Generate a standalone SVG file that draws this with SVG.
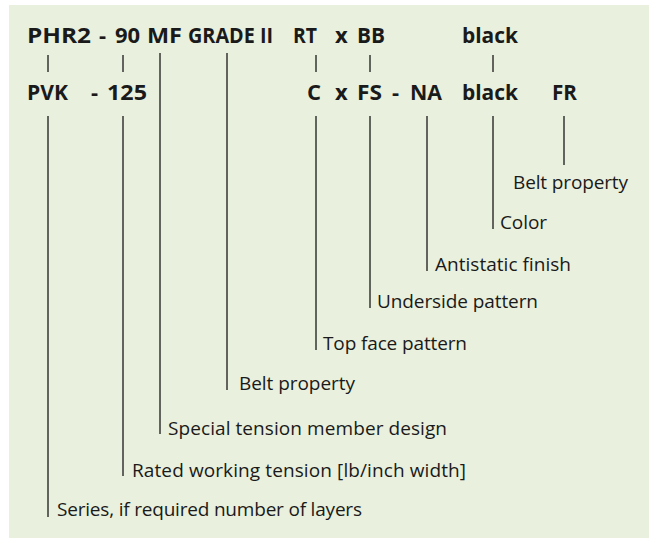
<svg xmlns="http://www.w3.org/2000/svg" width="649" height="538" viewBox="0 0 649 538">
<style>
.bg{fill:#e9f0dd}
.code{font-family:"Open Sans","Noto Sans",sans-serif;font-weight:bold;font-size:22px;fill:#1a1a1a}
.lbl{font-family:"Open Sans","Noto Sans",sans-serif;font-size:19px;fill:#1a1a1a}
.ln{stroke:#1a1a1a;stroke-width:1.3;fill:none}
</style>
<rect class="bg" x="9" y="5" width="640" height="533"/>
<g id="row1">
<text class="code" x="27" y="43" textLength="64" lengthAdjust="spacingAndGlyphs">PHR2</text>
<text class="code" x="99" y="43">-</text>
<text class="code" x="115" y="43">90</text>
<text class="code" x="147" y="43" textLength="35" lengthAdjust="spacingAndGlyphs">MF</text>
<text class="code" x="188" y="43" textLength="85" lengthAdjust="spacingAndGlyphs">GRADE II</text>
<text class="code" x="293" y="43" textLength="24" lengthAdjust="spacingAndGlyphs">RT</text>
<text class="code" x="335" y="43">x</text>
<text class="code" x="357" y="43" textLength="28" lengthAdjust="spacingAndGlyphs">BB</text>
<text class="code" x="462" y="43" textLength="56" lengthAdjust="spacingAndGlyphs">black</text>
</g>
<g id="row2">
<text class="code" x="27" y="100" textLength="41" lengthAdjust="spacingAndGlyphs">PVK</text>
<text class="code" x="91" y="100">-</text>
<text class="code" x="107" y="100" textLength="40" lengthAdjust="spacingAndGlyphs">125</text>
<text class="code" x="307" y="100">C</text>
<text class="code" x="335" y="100">x</text>
<text class="code" x="357" y="100" textLength="25" lengthAdjust="spacingAndGlyphs">FS</text>
<text class="code" x="392" y="100">-</text>
<text class="code" x="410" y="100" textLength="32" lengthAdjust="spacingAndGlyphs">NA</text>
<text class="code" x="462" y="100" textLength="56" lengthAdjust="spacingAndGlyphs">black</text>
<text class="code" x="552" y="100" textLength="25" lengthAdjust="spacingAndGlyphs">FR</text>
</g>
<g id="connectors">
<path class="ln" d="M48 55V72M123 55V72M316 55V72M370 55V72M493 55V72"/>
<path class="ln" d="M48 116V517M123 116V476M160 53V434M227 53V390M316 116V350M370 116V308M427 116V271M493 116V229M564 116V165"/>
</g>
<g id="labels">
<text class="lbl" x="513" y="189" textLength="115" lengthAdjust="spacing">Belt property</text>
<text class="lbl" x="500" y="229" textLength="47" lengthAdjust="spacing">Color</text>
<text class="lbl" x="435" y="271" textLength="136" lengthAdjust="spacing">Antistatic finish</text>
<text class="lbl" x="377" y="308" textLength="161" lengthAdjust="spacing">Underside pattern</text>
<text class="lbl" x="323" y="350" textLength="144" lengthAdjust="spacing">Top face pattern</text>
<text class="lbl" x="239" y="390" textLength="116" lengthAdjust="spacing">Belt property</text>
<text class="lbl" x="168" y="435" textLength="279" lengthAdjust="spacing">Special tension member design</text>
<text class="lbl" x="132" y="477" textLength="334" lengthAdjust="spacing">Rated working tension [lb/inch width]</text>
<text class="lbl" x="57" y="516" textLength="305" lengthAdjust="spacing">Series, if required number of layers</text>
</g>
</svg>
